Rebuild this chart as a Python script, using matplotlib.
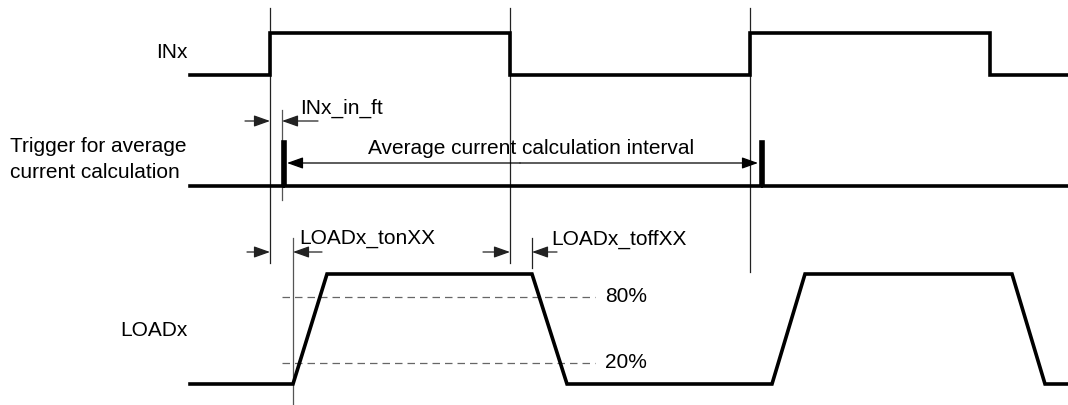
import matplotlib.pyplot as plt

plt.rcParams['font.family'] = ['Liberation Sans', 'DejaVu Sans']

# waveform data (pixel-like time/level coordinates)
inx_t = [190, 270, 270, 510, 510, 750, 750, 990, 990, 1068]
inx_y = [75, 75, 33, 33, 75, 75, 33, 33, 75, 75]

trig_t = [190, 283, 283, 285, 285, 761, 761, 763, 763, 1068]
trig_y = [186, 186, 142, 142, 186, 186, 142, 142, 186, 186]

load_t = [190, 293, 327, 532, 567, 772, 805, 1012, 1045, 1068]
load_y = [384, 384, 274, 274, 384, 384, 274, 274, 384, 384]

level_80 = 297
level_20 = 363

fig = plt.figure(figsize=(10.68, 4.05), dpi=100)
ax = fig.add_axes([0, 0, 1, 1])
ax.set_xlim(0, 1068)
ax.set_ylim(405, 0)
ax.axis('off')

# guide lines
guide = dict(color='#222222', lw=0.9)
ax.plot([270, 270], [8, 263], **guide)
ax.plot([510, 510], [8, 263], **guide)
ax.plot([750, 750], [8, 272], **guide)
ax.plot([282, 282], [110, 200], color='#555555', lw=0.9)
ax.plot([293, 293], [238, 405], color='#555555', lw=0.9)
ax.plot([532, 532], [238, 268], **guide)

# threshold lines
ax.plot([282, 595], [level_80, level_80], color='#666666', lw=0.9, ls=(0, (6, 4)))
ax.plot([282, 595], [level_20, level_20], color='#666666', lw=0.9, ls=(0, (6, 4)))

# signals
sig = dict(color='black', lw=2.6, solid_joinstyle='miter')
ax.plot(inx_t, inx_y, **sig)
ax.plot(trig_t, trig_y, **sig)
ax.plot(load_t, load_y, **sig)


def arrow(x0, x1, y, color='#222222'):
    ax.annotate('', xy=(x1, y), xytext=(x0, y),
                arrowprops=dict(arrowstyle='-|>,head_length=0.7,head_width=0.25',
                                color=color, lw=0.9,
                                mutation_scale=14, shrinkA=0, shrinkB=0))


arrow(245, 270, 121)
arrow(318, 282, 121)
arrow(520, 287, 163, 'black')
arrow(520, 758, 163, 'black')
arrow(247, 270, 252)
arrow(322, 293, 252)
arrow(483, 510, 252)
arrow(557, 532, 252)

fs = 15
ax.text(188, 52, 'INx', ha='right', va='center', fontsize=fs)
ax.text(10, 147, 'Trigger for average', ha='left', va='center', fontsize=fs)
ax.text(10, 173, 'current calculation', ha='left', va='center', fontsize=fs)
ax.text(188, 330, 'LOADx', ha='right', va='center', fontsize=fs)
ax.text(300, 108, 'INx_in_ft', ha='left', va='center', fontsize=fs)
ax.text(368, 148, 'Average current calculation interval', ha='left', va='center', fontsize=fs)
ax.text(299, 239, 'LOADx_tonXX', ha='left', va='center', fontsize=fs)
ax.text(551, 239, 'LOADx_toffXX', ha='left', va='center', fontsize=fs)
ax.text(605, level_80, '80%', ha='left', va='center', fontsize=fs)
ax.text(605, level_20, '20%', ha='left', va='center', fontsize=fs)

fig.savefig('out.png', dpi=100, facecolor='white')
